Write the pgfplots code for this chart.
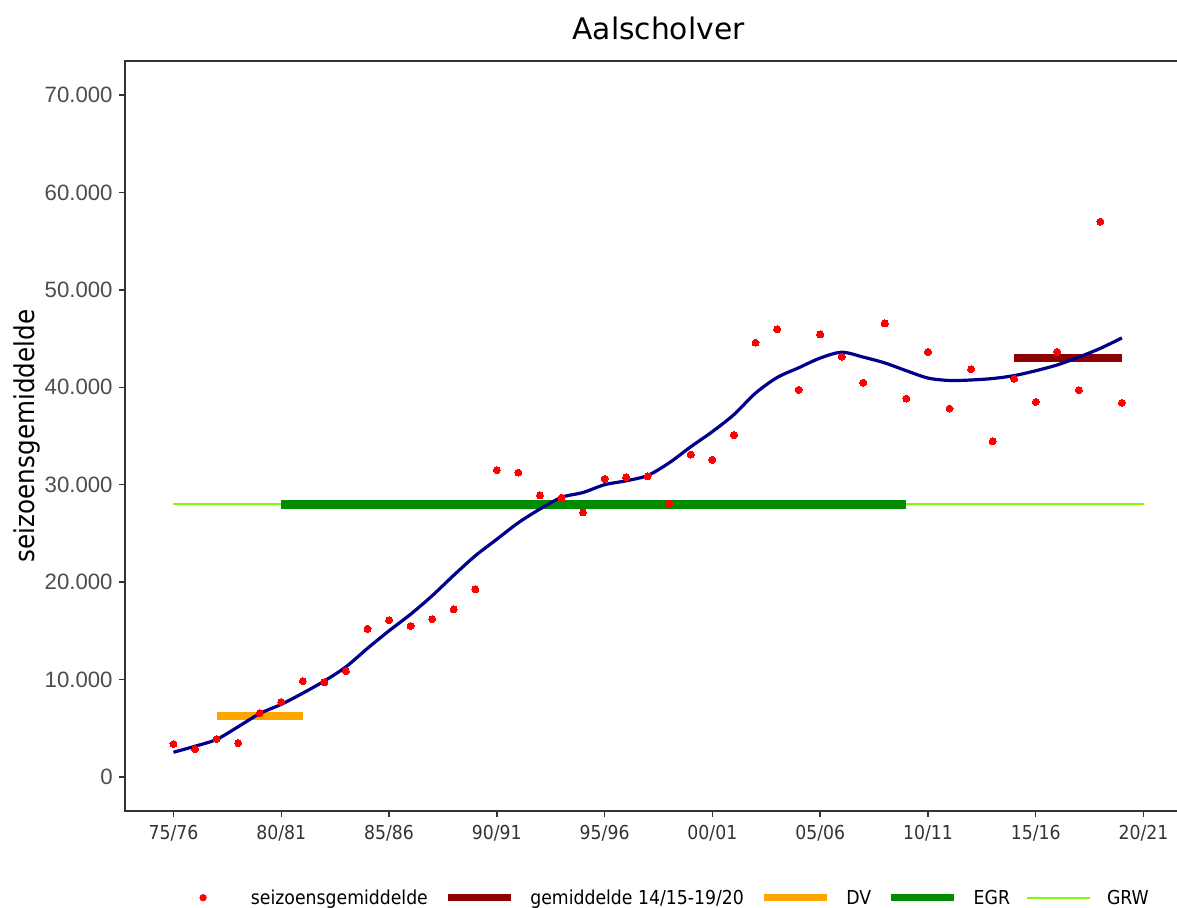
\documentclass[border=0pt]{standalone}
\usepackage{fontspec}
\setmainfont{DejaVu Sans}
\newfontfamily\condfont{DejaVu Sans}[FakeStretch=0.9]
\newfontfamily\arialfont{Liberation Sans}
\usepackage{pgfplots}
\pgfplotsset{compat=1.18}
\definecolor{dotred}{HTML}{FF0000}
\definecolor{curveblue}{HTML}{00008B}
\definecolor{gemred}{HTML}{8B0000}
\definecolor{dvorange}{HTML}{FFA500}
\definecolor{egrgreen}{HTML}{008B00}
\definecolor{grwgreen}{HTML}{7CFC00}
\definecolor{framegray}{HTML}{333333}
\definecolor{ticklabgray}{HTML}{4D4D4D}
\begin{document}
\begin{tikzpicture}
\begin{axis}[
  at={(0pt,0pt)}, anchor=south west,
  scale only axis, width=533.5pt, height=375pt,
  xmin=1972.75, xmax=2022.25, ymin=-3500, ymax=73500,
  scaled y ticks=false, scaled x ticks=false,
  axis line style={framegray, line width=0.75pt},
  xtick={1975,1980,...,2020},
  xticklabels={75/76,80/81,85/86,90/91,95/96,00/01,05/06,10/11,15/16,20/21},
  ytick={0,10000,...,70000},
  yticklabels={0,10.000,20.000,30.000,40.000,50.000,60.000,70.000},
  tick align=outside, major tick length=3pt,
  tick style={framegray, line width=0.75pt},
  tick pos=left,
  xticklabel style={font=\condfont\fontsize{9.6}{11}\selectfont, text=framegray, inner sep=0pt, anchor=north, yshift=-4pt},
  yticklabel style={font=\arialfont\fontsize{11.1}{13}\selectfont, text=ticklabgray, inner sep=0pt, anchor=east, xshift=-3pt},
  ylabel={seizoensgemiddelde},
  ylabel style={at={(axis description cs:-0.0918,0.5)}, anchor=center, inner sep=0pt, font=\condfont\fontsize{13.7}{16}\selectfont},
  title={Aalscholver},
  title style={at={(axis description cs:0.5,1)}, anchor=base, yshift=4.85pt, inner sep=0pt, font=\fontsize{14.86}{18}\selectfont},
  legend columns=5,
  legend cell align=left,
  legend style={at={(axis description cs:0.5014,-0.117)}, anchor=center, draw=none, fill=none, inner sep=0pt, outer sep=0pt,
    font=\condfont\fontsize{9.6}{11}\selectfont,
    nodes={inner sep=0pt},
    /tikz/every odd column/.append style={column sep=8pt},
    /tikz/every even column/.append style={column sep=8pt}},
]
% GRW
\addplot[grwgreen, line width=1pt, forget plot] coordinates {(1975,28000) (2020,28000)};
% EGR
\addplot[egrgreen, line width=4.5pt, forget plot] coordinates {(1980,28000) (2009,28000)};
% DV
\addplot[dvorange, line width=4pt, forget plot] coordinates {(1977,6280) (1981,6280)};
% gemiddelde 14/15-19/20
\addplot[gemred, line width=4pt, forget plot] coordinates {(2014,43020) (2019,43020)};
% smooth trend
\addplot[curveblue, line width=1.6pt, smooth, forget plot] coordinates {
(1975,2530) (1976,3150) (1977,3850) (1978,5150) (1979,6500) (1980,7450)
(1981,8600) (1982,9850) (1983,11300) (1984,13200) (1985,15000) (1986,16700)
(1987,18600) (1988,20700) (1989,22700) (1990,24400) (1991,26100) (1992,27500)
(1993,28700) (1994,29200) (1995,30000) (1996,30400) (1997,30950) (1998,32250)
(1999,33900) (2000,35450) (2001,37200) (2002,39400) (2003,41000) (2004,42000)
(2005,43000) (2006,43600) (2007,43100) (2008,42500) (2009,41700) (2010,40950)
(2011,40700) (2012,40750) (2013,40900) (2014,41200) (2015,41700) (2016,42300)
(2017,43100) (2018,44000) (2019,45070)};
% seizoensgemiddelde
\addplot[dotred, only marks, mark=*, mark size=1.75pt, mark options={draw=dotred, fill=dotred, line width=0pt}, forget plot] coordinates {
(1975,3380) (1976,2840) (1977,3890) (1978,3480) (1979,6560) (1980,7690)
(1981,9840) (1982,9700) (1983,10860) (1984,15200) (1985,16100) (1986,15500)
(1987,16200) (1988,17200) (1989,19250) (1990,31500) (1991,31250) (1992,28900)
(1993,28650) (1994,27150) (1995,30600) (1996,30750) (1997,30850) (1998,28050)
(1999,33100) (2000,32560) (2001,35100) (2002,44580) (2003,45950) (2004,39740)
(2005,45430) (2006,43150) (2007,40480) (2008,46560) (2009,38840) (2010,43630)
(2011,37820) (2012,41850) (2013,34440) (2014,40890) (2015,38500) (2016,43630)
(2017,39700) (2018,57000) (2019,38400)};
% legend
\addlegendimage{legend image code/.code={\path (0pt,0pt) (31.5pt,0pt); \fill[dotred] (15.75pt,0.5pt) circle (1.6pt);}}
\addlegendentry{seizoensgemiddelde}
\addlegendimage{legend image code/.code={\draw[gemred, line width=3.75pt] (0pt,0.5pt) -- (31.5pt,0.5pt);}}
\addlegendentry{gemiddelde 14/15-19/20}
\addlegendimage{legend image code/.code={\draw[dvorange, line width=3.75pt] (0pt,0.5pt) -- (31.5pt,0.5pt);}}
\addlegendentry{DV}
\addlegendimage{legend image code/.code={\draw[egrgreen, line width=3.75pt] (0pt,0.5pt) -- (31.5pt,0.5pt);}}
\addlegendentry{EGR}
\addlegendimage{legend image code/.code={\draw[grwgreen, line width=1pt] (0pt,0.5pt) -- (31.5pt,0.5pt);}}
\addlegendentry{GRW}
\end{axis}
\pgfresetboundingbox
\path[use as bounding box] (-62.5pt,-48.5pt) rectangle (526pt,405.5pt);
\end{tikzpicture}
\end{document}
